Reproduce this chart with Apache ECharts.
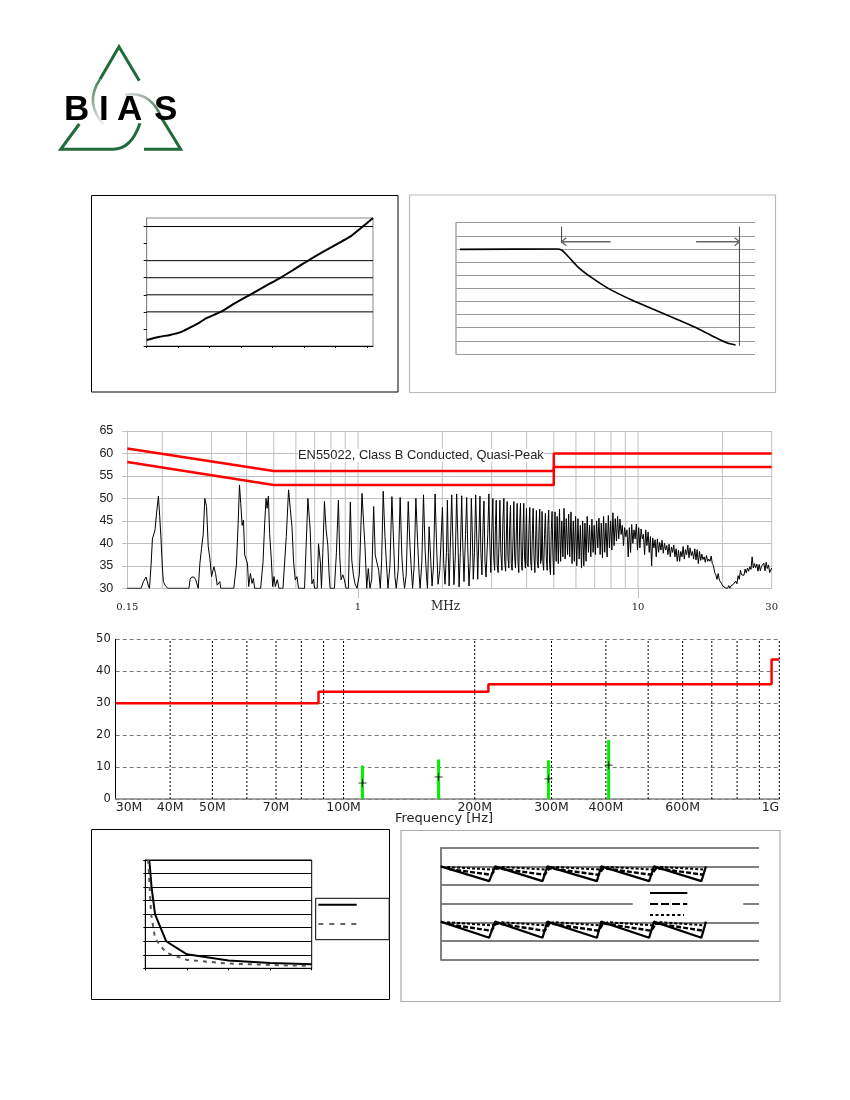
<!DOCTYPE html>
<html><head><meta charset="utf-8">
<style>html,body{margin:0;padding:0;background:#fff}#c{width:850px;height:1100px}</style>
<script src="https://cdn.jsdelivr.net/npm/echarts@6/dist/echarts.min.js"></script>
</head><body><div id="c"></div>
<script>
// Panel 1
const p1X=[0,.37,.74,1.06,1.37,1.69,1.9,2.33,2.75,3.28,3.81,4.23,4.65,5.13,5.6,6.03,6.45,6.77,7.19];
const p1Y=[.35,.53,.65,.8,1.08,1.39,1.63,1.98,2.45,3,3.55,3.98,4.45,5,5.51,5.96,6.39,6.86,7.5];
const p1Grid=[2,3,4,5,7];
// Panel 2
const p2X=[1.3,33.7,35.3,37.6,40.9,45.4,50.9,58.8,66.6,74.4,81,86.6,90.5,93.5];
const p2Y=[7.97,8,7.92,7.41,6.6,5.81,5,4.11,3.35,2.59,1.93,1.27,.86,.69];
const p2Markers=[[[35.3,9.7],[35.3,8.43]],[[94.8,9.7],[94.8,.61]]];
const p2Arrows=[[[51.7,8.55],[35.3,8.55],[36.9,8.85],[35.3,8.55],[36.9,8.25]],[[80.3,8.55],[94.8,8.55],[93.2,8.85],[94.8,8.55],[93.2,8.25]]];
// Conducted emissions
const condUpper=[[.15,61.1],[.5,56.1],[5,56.1],[5,60],[30,60]];
const condLower=[[.15,58.1],[.5,53],[5,53],[5,57],[30,57]];
const condYTicks=[30,65,5];
const condXLabels=[.15,1,10,30];
const condGrid=[.2,.3,.4,.5,.6,.7,.8,.9,1,2,3,4,5,6,7,8,9,10,20,30];
const lowBand=[[.15,30],[.168,30],[.1713,31.5],[.175,32.5],[.1785,30.5],[.18,30],[.1823,35],[.1844,41],[.1884,43],[.191,47],[.1937,50.5],[.1958,46],[.1979,41],[.2,35],[.2018,31.5],[.2045,30.7],[.209,30],[.249,30],[.2515,32],[.2545,32.5],[.2595,32.5],[.263,32],[.2688,30],
[.2725,35.6],[.2762,38.9],[.28,42],[.2838,50],[.2878,48.2],[.2918,39.3],[.2957,36.7],[.2998,32.6],[.3057,34.8],[.3099,33.3],[.3142,30.7],[.3209,31.5],[.3235,30],[.36,30],[.3679,35.2],[.3732,44.5],[.3772,53],[.3812,48.9],[.3856,44],[.3898,45.2],[.3939,37.4],[.3993,37],[.4027,35.6],[.407,30.4],[.4127,33.3],[.4184,31.1],[.4229,32.2],[.4275,30],
[.449,30],[.4579,35.9],[.4642,44.5],[.4694,50],[.4733,47.8],[.4784,50.5],[.4834,42.2],[.4904,36.3],[.4955,30.4],[.5012,32.6],[.5066,30.4],[.5148,31.9],[.5221,30],[.5395,30],[.5543,41.5],[.5649,51.9],[.5728,47.8],[.5809,43.7],[.5886,35.9],[.5968,31.9],[.6052,32.6],[.6131,30],[.6441,30],[.6622,50],[.6749,43],[.6844,31],[.6934,32],[.6993,30],
[.7148,30],[.7225,39.9],[.7283,39.9],[.7342,35.6],[.7403,30],[.7487,38],[.7587,49.3],[.7692,43],[.78,39.6],[.7883,33],[.7949,30],[.8236,30],[.8372,38],[.851,49.6],[.8606,37],[.8698,31.9],[.8823,33],[.8937,31.9],[.9063,30],[.9237,30],[.9388,49.2],[.9497,36.3],[.9623,33],[.9757,31],[.9918,30],
[1.0107,33],[1.0332,51.1],[1.048,44],[1.059,39.3],[1.074,30],[1.088,34.4],[1.103,30],[1.119,32],[1.137,48.2],[1.152,37.4],[1.168,37],[1.185,34],[1.201,30],[1.214,36],[1.23,51.6],[1.248,41.5],[1.261,36.3],[1.279,30],[1.2998,35],[1.321,50.4],[1.34,40],[1.354,32.6],[1.369,30],[1.391,34],[1.414,50.2],[1.434,37],[1.45,32.6],[1.466,30],[1.486,33],[1.511,49.3],[1.532,39.6],[1.548,34.8],[1.566,30],[1.586,35],[1.609,50],[1.631,40.7],[1.652,33.3],[1.666,30],[1.69,36],[1.713,50.8],[1.736,38.5],[1.756,32.6],[1.77,30],[1.794,43.7],[1.819,36],[1.838,30.5],[1.86,35],[1.884,51],[1.91,38.5],[1.931,30.9],[1.958,34],[2.002,48],[2.023,35.6],[2.045,30.9],[2.069,38]];
const midBand=[[2.085,49.6],[2.1,38],[2.115,30.5],[2.135,39],[2.16,50.8],[2.18,41],[2.2,30.8],[2.225,37],[2.25,51],[2.27,42],[2.295,30.3],[2.32,38],[2.345,50.6],[2.365,40],[2.39,31.5],[2.42,42],[2.443,50.2],[2.465,39],[2.49,30.5],[2.515,36],[2.539,50],[2.555,44],[2.58,32],[2.605,38],[2.63,50.8],[2.65,43],[2.675,32],[2.7,41],[2.725,50.5],[2.745,38],[2.77,33],[2.795,44],[2.816,49.4],[2.84,36],[2.865,32.5],[2.905,42],[2.933,51],[2.955,40],[2.98,33.5],[3.005,43],[3.03,50],[3.05,37],[3.075,34],[3.095,44],[3.115,49.6],[3.14,35],[3.165,33.5],[3.19,41],[3.21,49.6],[3.235,38],[3.265,34],[3.29,45],[3.317,50],[3.34,36],[3.365,33.8],[3.39,43],[3.409,49.3],[3.43,37],[3.455,34.5],[3.48,44],[3.503,48.5],[3.525,35.5],[3.55,34],[3.58,42],[3.6,49.3],[3.625,37],[3.65,34.5],[3.68,44],[3.7,48.9],[3.725,36],[3.75,33.5],[3.78,45],[3.803,48.9],[3.83,36],[3.855,34],[3.885,43],[3.907,48.9],[3.93,37],[3.96,34.5],[3.975,42],[3.994,47.8],[4.02,35.5],[4.05,34.8],[4.08,44],[4.105,48],[4.135,36],[4.165,34],[4.195,43],[4.22,47.8],[4.25,37],[4.28,33.5],[4.31,42],[4.335,47.3],[4.365,36],[4.4,34.5],[4.43,44],[4.455,47.6],[4.485,35.5],[4.515,36.5],[4.541,47.1],[4.57,36],[4.6,34],[4.635,42],[4.667,46.7],[4.7,37],[4.735,34],[4.765,44],[4.796,47.4],[4.83,35.5],[4.865,33],[4.9,43],[4.93,47.1],[4.965,37]];
const highBand=[[5,33],[5.05,47],[5.1,36],[5.14,46],[5.19,35.5],[5.24,47.6],[5.29,36],[5.34,45],[5.39,37],[5.44,47.8],[5.49,36.5],[5.54,45.5],[5.6,37.5],[5.65,46.5],[5.7,37],[5.76,47],[5.81,35.5],[5.87,45],[5.92,36],[5.98,46],[6.04,35],[6.1,45.5],[6.16,36.5],[6.22,44],[6.28,34.5],[6.34,45],[6.4,35],[6.46,44.5],[6.52,36],[6.58,46],[6.65,38],[6.71,44],[6.78,37],[6.84,45.4],[6.91,38],[6.97,44],[7.04,37.5],[7.11,45],[7.18,39],[7.25,45.6],[7.32,37.5],[7.39,44.5],[7.46,36.8],[7.53,46],[7.6,38],[7.68,44.5],[7.75,37],[7.83,46.2],[7.9,39],[7.98,45],[8.06,38.5],[8.13,46.8],[8.21,39.5],[8.29,45.5],[8.37,40.5],[8.45,46],[8.53,41],[8.62,45.4],[8.7,42],[8.78,44],[8.87,39.5],[8.95,43.5],[9.04,41.5],[9.13,43],[9.22,37],[9.31,43.5],[9.4,38],[9.49,44.2],[9.58,40],[9.67,43],[9.76,41],[9.86,44.3],[9.95,38.5],[10.05,43.5],[10.15,39],[10.25,43.2],[10.35,41],[10.45,42],[10.55,37.5],[10.65,43],[10.75,39.5],[10.86,42.5],[10.96,38],[11.07,41.5],[11.18,35],[11.28,41.2],[11.39,39],[11.5,40.8],[11.61,37],[11.72,41],[11.84,38],[11.95,40.2],[12.07,38.5],[12.18,40.7],[12.3,37.8],[12.42,40],[12.54,38.5],[12.66,39.5],[12.78,37.5],[12.9,39.8],[13.03,37],[13.16,39.2],[13.28,38],[13.41,39.6],[13.54,37],[13.67,38.8],[13.8,36],[13.94,38.5],[14.07,36],[14.21,38.2],[14.35,37],[14.48,39.3],[14.62,36.5],[14.76,38.6],[14.91,37.5],[15.05,39.6],[15.2,36.8],[15.34,39],[15.49,37.3],[15.64,38.2],[15.79,36.5],[15.94,38.8],[16.1,36.3],[16.25,38.6],[16.41,35.5],[16.57,38.2],[16.73,36.2],[16.89,37.6],[17.05,36.4],[17.22,37],[17.38,35.8],[17.55,37.3],[17.72,36],[17.89,36.5],[18.07,36],[18.24,37.2],[18.41,35.5],[18.59,35],[18.77,33.5],[18.95,33],[19.14,32],[19.32,33.3],[19.51,31.8],[19.7,32.2],[19.89,31],[20.08,30.5],[20.27,30.7],[20.47,30.1],[20.67,30.5],[20.87,30],[21.07,30.6],[21.27,30],[21.48,30.6],[21.69,30.2],[21.9,30.9],[22.11,30.5],[22.32,31.6],[22.54,31],[22.76,32.8],[22.98,32],[23.2,34],[23.42,33],[23.65,33.4],[23.88,32.9],[24.11,34.3],[24.34,33.4],[24.58,34.5],[24.82,33.8],[25.06,34.8],[25.3,34.2],[25.54,37],[25.79,34.5],[26.04,35.5],[26.29,34.6],[26.54,35.4],[26.8,33.8],[27.06,35.3],[27.32,33.9],[27.58,34.9],[27.85,34.6],[28.12,35.6],[28.39,33.9],[28.66,35.8],[28.94,34.4],[29.22,35.2],[29.5,33.5],[29.8,33.9],[30,34.5]];
// Radiated emissions
const radLimit=[[30,30],[87.6,30],[87.6,33.6],[215,33.6],[215,35.9],[960,35.9],[960,43.7],[1000,43.7]];
const radFreq=[110.5,165.2,295.3,405.9];
const radPeak=[10.5,12.4,12.1,18.5];
const radAvg=[5,6.9,6.3,10.6];
const radTicks=[30,40,50,70,100,200,300,400,600,1000];
const radTickText=['30M','40M','50M','70M','100M','200M','300M','400M','600M','1G'];
const radGrid=[40,50,60,70,80,90,100,200,300,400,500,600,700,800,900,1000];
// Panel 5
const p5Solid=[[.097,8],[.15,6],[.235,3.99],[.5,2],[1,1.03],[2,.57],[3,.4],[4,.3]];
const p5Dash=[[.07,8],[.14,4],[.235,2.2],[.5,1.15],[1,.62],[2,.35],[3,.25],[4,.17]];
// Panel 6
const tooth1=[[0,5],[.91,4.21],[1.02,5],[1.91,4.21],[2,5],[2.93,4.21],[3.01,5],[3.91,4.21],[4,5],[4.89,4.21],[4.975,5]];
const tooth1Dash=[[.16,4.85],[.95,4.55],[1.04,4.9],[1.18,4.85],[1.95,4.55],[2.04,4.9],[2.16,4.85],[2.96,4.55],[3.05,4.9],[3.18,4.85],[3.95,4.55],[4.04,4.9],[4.16,4.85],[4.93,4.55]];
const tooth1Dot=[[.12,4.97],[.96,4.83],[1.14,4.97],[1.97,4.83],[2.12,4.97],[2.98,4.83],[3.14,4.97],[3.97,4.83],[4.12,4.97],[4.95,4.83]];
const tooth2=[[0,2.04],[.91,1.18],[1.02,2.04],[1.91,1.18],[2,2.04],[2.93,1.18],[3.01,2.04],[3.91,1.18],[4,2.04],[4.89,1.18],[4.975,2.04]];
const tooth2Dash=[[.16,1.89],[.95,1.55],[1.04,1.94],[1.18,1.89],[1.95,1.55],[2.04,1.94],[2.16,1.89],[2.96,1.55],[3.05,1.94],[3.18,1.89],[3.95,1.55],[4.04,1.94],[4.16,1.89],[4.93,1.55]];
const tooth2Dot=[[.12,2.01],[.96,1.84],[1.14,2.01],[1.97,1.84],[2.12,2.01],[2.98,1.84],[3.14,2.01],[3.97,1.84],[4.12,2.01],[4.95,1.84]];

const sans='"Liberation Sans",Arial,sans-serif';
function box(l,t,r,b){return {left:l,top:t,width:r-l,height:b-t,containLabel:false};}
const grid=[
 Object.assign(box(146.7,218,373,346),{show:true,borderColor:'#888',borderWidth:1}),
 box(456,222.7,755,354),
 box(127.3,431,771.7,588.3),
 box(115.7,639.3,779.3,799),
 Object.assign(box(145.3,860,311.7,968.3),{show:true,borderColor:'#000',borderWidth:1}),
 box(440.7,847.7,759,959.7)
];
const noLabel={show:false};
const xAxis=[
 {gridIndex:0,type:'value',min:0,max:7.19,axisLabel:noLabel,splitLine:{show:false},axisLine:{lineStyle:{color:'#000'}},axisTick:{show:true,length:2,customValues:[0,1,2,3,4,5,6,7],lineStyle:{color:'#000'}}},
 {gridIndex:1,type:'value',min:0,max:100,axisLabel:noLabel,splitLine:{show:false},axisLine:{show:false},axisTick:{show:false}},
 {gridIndex:2,type:'log',logBase:10,min:.15,max:30,
  splitLine:{show:false},axisLine:{show:true,lineStyle:{color:'#c0c0c0'}},
  axisTick:{show:true,length:10,customValues:[1,10],lineStyle:{color:'#c0c0c0'}},
  axisLabel:{customValues:condXLabels,margin:14,fontFamily:'"DejaVu Serif"',fontSize:10,color:'#222',hideOverlap:false,showMinLabel:true,showMaxLabel:true}},
 {gridIndex:3,type:'log',logBase:10,min:30,max:1000,
  splitLine:{show:false},axisLine:{show:true,lineStyle:{color:'#888',width:1.5}},axisTick:{show:false},
  axisLabel:{customValues:radTicks,margin:2,fontFamily:'"DejaVu Sans"',fontSize:12.5,color:'#222',hideOverlap:false,showMinLabel:true,showMaxLabel:true,alignMinLabel:'left',alignMaxLabel:'right',
   formatter:v=>radTickText[radTicks.findIndex(t=>Math.abs(t-v)<1e-6)]}},
 {gridIndex:4,type:'value',min:0,max:4,interval:1,axisLabel:noLabel,splitLine:{show:false},axisLine:{lineStyle:{color:'#000'}},axisTick:{show:true,length:2,lineStyle:{color:'#000'}}},
 {gridIndex:5,type:'value',min:0,max:5.97,axisLabel:noLabel,splitLine:{show:false},axisLine:{show:false},axisTick:{show:false}}
];
const yAxis=[
 {gridIndex:0,type:'value',min:0,max:7.5,axisLabel:noLabel,splitLine:{show:false},axisLine:{show:true,lineStyle:{color:'#888'}},axisTick:{show:true,length:3,inside:false,customValues:[0,1,2,3,4,5,6,7],lineStyle:{color:'#000'}}},
 {gridIndex:1,type:'value',min:0,max:10,interval:1,axisLabel:noLabel,axisTick:{show:false},axisLine:{show:true,lineStyle:{color:'#aaa',width:1.5}},splitLine:{show:true,lineStyle:{color:'#999',width:1}}},
 {gridIndex:2,type:'value',min:condYTicks[0],max:condYTicks[1],interval:condYTicks[2],axisLabel:{fontFamily:sans,fontSize:12.5,color:'#222',margin:14},axisTick:{show:true,length:5,lineStyle:{color:'#c0c0c0'}},axisLine:{show:true,lineStyle:{color:'#c0c0c0'}},splitLine:{show:true,lineStyle:{color:'#c0c0c0'}}},
 {gridIndex:3,type:'value',min:0,max:50,interval:10,axisLabel:{fontFamily:'"DejaVu Sans"',fontSize:11.5,color:'#222',margin:5},axisTick:{show:false},axisLine:{show:true,lineStyle:{color:'#000',width:1}},splitLine:{show:true,lineStyle:{color:'#777',type:[4,3]}}},
 {gridIndex:4,type:'value',min:0,max:8,interval:1,axisLabel:noLabel,axisLine:{show:true,lineStyle:{color:'#000'}},axisTick:{show:true,length:2,lineStyle:{color:'#000'}},splitLine:{show:true,lineStyle:{color:'#000'}}},
 {gridIndex:5,type:'value',min:0,max:6,interval:1,axisLabel:noLabel,axisTick:{show:false},axisLine:{show:true,lineStyle:{color:'#808080',width:2}},splitLine:{show:true,lineStyle:{color:'#808080',width:2}}}
];
function ln(i,data,color,width,type,z,smooth){return {type:'line',xAxisIndex:i,yAxisIndex:i,data:data,showSymbol:false,symbol:'none',silent:true,animation:false,z:z||3,smooth:smooth||false,
 lineStyle:{color:color,width:width,type:type||'solid'}};}
const series=[];
p1Grid.forEach(v=>series.push(ln(0,[[0,v],[7.19,v]],'#000',1,'solid',1)));
series.push(ln(0,p1X.map((x,i)=>[x,p1Y[i]]),'#000',2,'solid',3,.25));
series.push(ln(1,p2X.map((x,i)=>[x,p2Y[i]]),'#000',1.6,'solid',3,.25));
p2Markers.forEach(m=>series.push(ln(1,m,'#444',1)));
p2Arrows.forEach(m=>series.push(ln(1,m,'#666',1.3)));
condGrid.forEach(v=>series.push(ln(2,[[v,30],[v,65]],'#c0c0c0',1,'solid',1)));
series.push(ln(2,lowBand.concat(midBand,highBand),'#000',1));
series.push(ln(2,condUpper,'#f00',2.5,'solid',4));
series.push(ln(2,condLower,'#f00',2.5,'solid',4));
radGrid.forEach(v=>series.push(ln(3,[[v,0],[v,50]],'#000',1,[2,2],1)));
series.push(ln(3,radLimit,'#f00',2.5,'solid',4));
radFreq.forEach((f,i)=>series.push(ln(3,[[f,0],[f,radPeak[i]]],'#00f000',3,'solid',3)));
series.push({type:'scatter',xAxisIndex:3,yAxisIndex:3,data:radFreq.map((f,i)=>[f,radAvg[i]]),symbol:'path://M0 5H10M5 0V10',symbolSize:8,silent:true,z:5,animation:false,
 itemStyle:{color:'none',borderColor:'#000',borderWidth:1}});
series.push(ln(4,p5Solid,'#000',2));
series.push(ln(4,p5Dash,'#555',2,[4,5]));
[[tooth1,tooth1Dash,tooth1Dot],[tooth2,tooth2Dash,tooth2Dot]].forEach(b=>{
 series.push(ln(5,b[0],'#000',2.2));
 series.push(ln(5,b[1],'#000',2.4,[5,2]));
 series.push(ln(5,b[2],'#000',2,[3,2]));
});
const Z=100;
function frame(l,t,r,b,c,w){return {type:'rect',z:Z-5,shape:{x:l,y:t,width:r-l,height:b-t},style:{fill:'none',stroke:c,lineWidth:w||1}};}
function seg(x1,y1,x2,y2,c,w,dash){return {type:'line',z:Z,shape:{x1,y1,x2,y2},style:{stroke:c,lineWidth:w,lineDash:dash||null}};}
const G=echarts.graphic.LinearGradient;
const green='#1f6b3a';
const graphic={elements:[
 frame(91.5,195.5,398,392,'#000',1),
 frame(409.5,195,775.5,392.5,'#bbb',1.2),
 frame(91.5,829.5,389.5,999.5,'#000',1),
 frame(401,830.5,780,1001.5,'#aaa',1.2),
 {type:'rect',z:Z-3,shape:{x:315.7,y:898.3,width:73.5,height:41.4},style:{fill:'#fff',stroke:'#000',lineWidth:1}},
 seg(318.3,904.7,356.7,904.7,'#000',2),
 seg(318.3,924,356.7,924,'#666',2,[5,6]),
 {type:'rect',z:Z-3,shape:{x:632.7,y:888,width:110.6,height:32},style:{fill:'#fff'}},
 seg(650,893,687.3,893,'#000',2),
 seg(650,904,687.3,904,'#000',2,[8,3]),
 seg(650,915,684,915,'#000',2,[3,2.5]),
 {type:'text',z:Z,left:298,top:449,style:{text:'EN55022, Class B Conducted, Quasi-Peak',font:'12.9px '+sans,fill:'#222',backgroundColor:'#fff'}},
 {type:'text',z:Z,left:431,top:601,style:{text:'MHz',font:'12px "DejaVu Serif"',fill:'#222'}},
 {type:'text',z:Z,left:395,top:812,style:{text:'Frequency [Hz]',font:'13px "DejaVu Sans"',fill:'#222'}},
 // logo
 {type:'polyline',z:Z,shape:{points:[[100,79.3],[119,46.7],[139.3,80.7]]},style:{fill:'none',stroke:green,lineWidth:3}},
 {type:'polyline',z:Z,shape:{points:[[79.3,124],[60.7,149.3],[112,149.3]]},style:{fill:'none',stroke:green,lineWidth:3}},
 {type:'bezierCurve',z:Z,shape:{x1:112,y1:149.3,x2:140,y2:123.3,cpx1:131,cpy1:150},style:{fill:'none',stroke:green,lineWidth:3}},
 {type:'polyline',z:Z,shape:{points:[[161.7,118.3],[180.7,149.3],[144,149.3]]},style:{fill:'none',stroke:green,lineWidth:3}},
 {type:'bezierCurve',z:Z,shape:{x1:100,y1:79.3,x2:104,y2:125,cpx1:84,cpy1:103},style:{fill:'none',lineWidth:2.6,stroke:new G(0,0,0,1,[{offset:0,color:'#3d7d55'},{offset:.6,color:'#a8b8ac'},{offset:1,color:'#fff'}])}},
 {type:'bezierCurve',z:Z,shape:{x1:125,y1:95,x2:161.7,y2:118.3,cpx1:150,cpy1:90},style:{fill:'none',lineWidth:2.6,stroke:new G(0,0,1,0,[{offset:0,color:'#ddd'},{offset:.6,color:'#9aa89e'},{offset:1,color:green}])}},
 {type:'text',z:Z+1,left:64,top:93,style:{text:'B',font:'bold 35px '+sans,fill:'#000'}},
 {type:'text',z:Z+1,left:99,top:93,style:{text:'I',font:'bold 35px '+sans,fill:'#000'}},
 {type:'text',z:Z+1,left:117,top:93,style:{text:'A',font:'bold 35px '+sans,fill:'#000'}},
 {type:'text',z:Z+1,left:154,top:93,style:{text:'S',font:'bold 35px '+sans,fill:'#000'}}
]};
const chart=echarts.init(document.getElementById('c'),null,{renderer:'canvas'});
chart.setOption({animation:false,backgroundColor:'#fff',grid,xAxis,yAxis,series,graphic});
</script></body></html>
